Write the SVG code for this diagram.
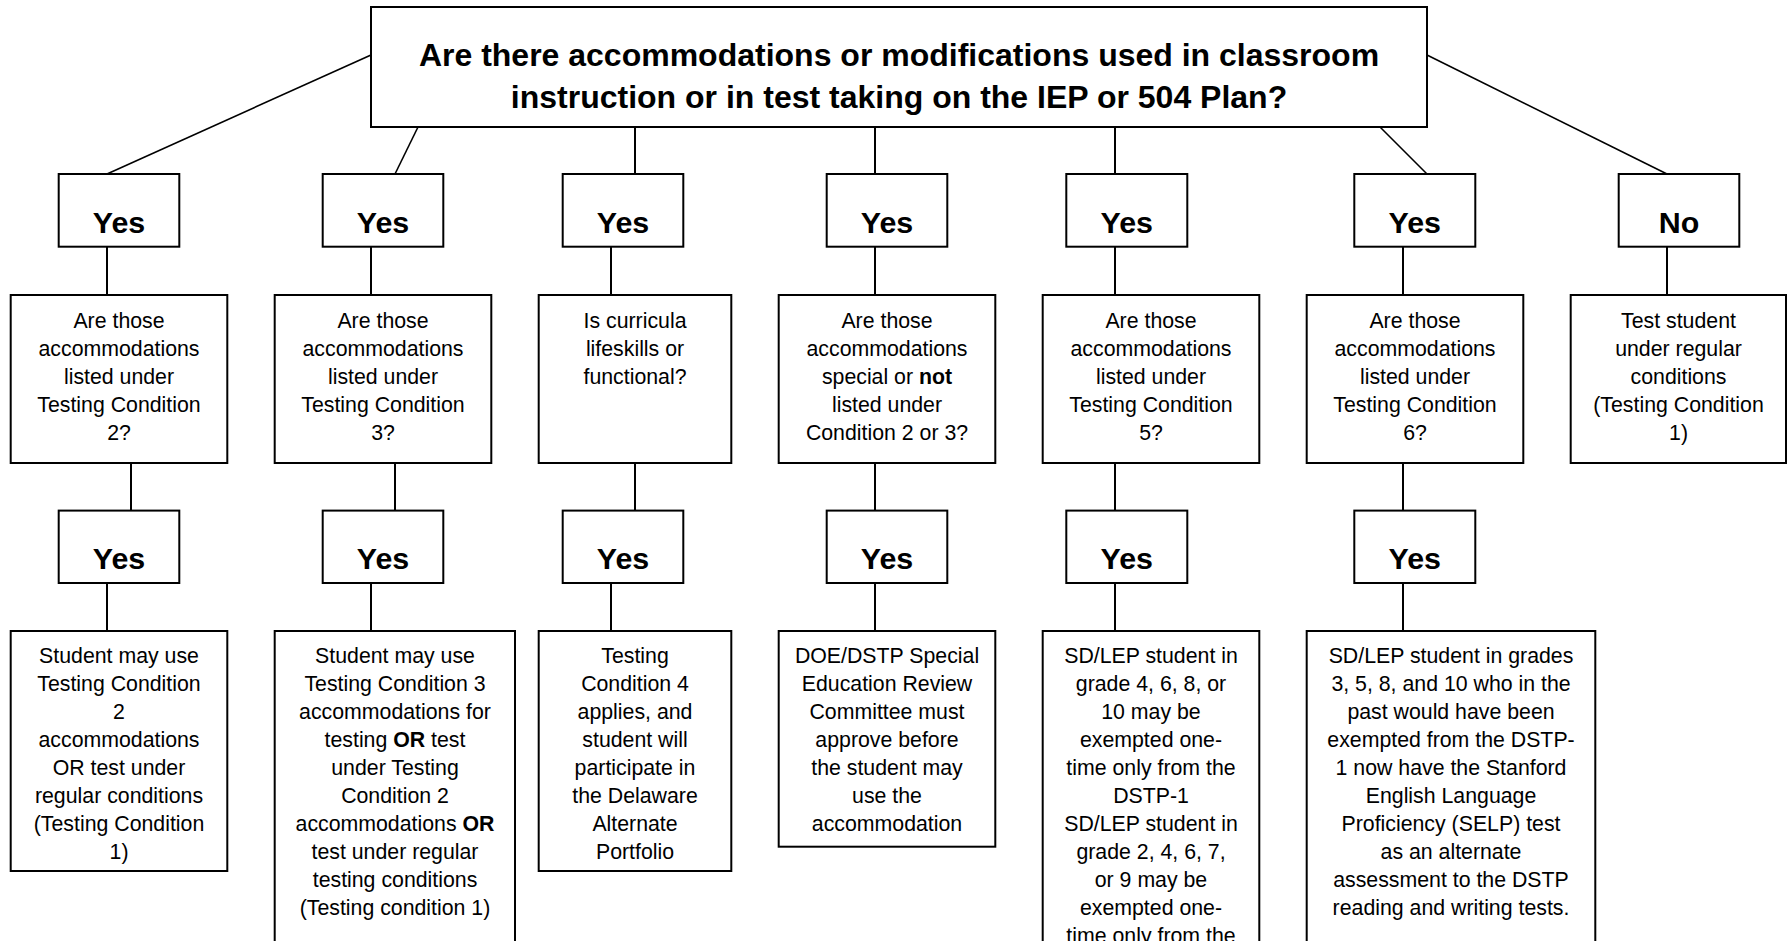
<svg xmlns="http://www.w3.org/2000/svg" width="1787" height="941" viewBox="0 0 1787 941">
<style>
.box{fill:#fff;stroke:#000;stroke-width:2}
.c{stroke:#000;stroke-width:2;fill:none}
.d{stroke:#000;stroke-width:1.6;fill:none}
text{font-family:"Liberation Sans",Arial,sans-serif;fill:#000;text-anchor:middle}
.t{font-size:21.3px}
.y{font-size:30.4px;font-weight:bold}
.h{font-size:32px;font-weight:bold}
.b{font-weight:bold}
</style>
<rect width="1787" height="941" fill="#fff"/>
<g id="connectors">
<line class="d" x1="371" y1="55" x2="107" y2="174"/>
<line class="d" x1="418" y1="127" x2="395" y2="174"/>
<line class="c" x1="635" y1="127" x2="635" y2="174"/>
<line class="c" x1="875" y1="127" x2="875" y2="174"/>
<line class="c" x1="1115" y1="127" x2="1115" y2="174"/>
<line class="d" x1="1380" y1="127" x2="1427" y2="174"/>
<line class="d" x1="1427" y1="55" x2="1667" y2="174"/>
<line class="c" x1="107" y1="247" x2="107" y2="295"/>
<line class="c" x1="371" y1="247" x2="371" y2="295"/>
<line class="c" x1="611" y1="247" x2="611" y2="295"/>
<line class="c" x1="875" y1="247" x2="875" y2="295"/>
<line class="c" x1="1115" y1="247" x2="1115" y2="295"/>
<line class="c" x1="1403" y1="247" x2="1403" y2="295"/>
<line class="c" x1="1667" y1="247" x2="1667" y2="295"/>
<line class="c" x1="131" y1="463" x2="131" y2="511"/>
<line class="c" x1="395" y1="463" x2="395" y2="511"/>
<line class="c" x1="635" y1="463" x2="635" y2="511"/>
<line class="c" x1="875" y1="463" x2="875" y2="511"/>
<line class="c" x1="1115" y1="463" x2="1115" y2="511"/>
<line class="c" x1="1403" y1="463" x2="1403" y2="511"/>
<line class="c" x1="107" y1="583" x2="107" y2="631"/>
<line class="c" x1="371" y1="583" x2="371" y2="631"/>
<line class="c" x1="611" y1="583" x2="611" y2="631"/>
<line class="c" x1="875" y1="583" x2="875" y2="631"/>
<line class="c" x1="1115" y1="583" x2="1115" y2="631"/>
<line class="c" x1="1403" y1="583" x2="1403" y2="631"/>
</g>
<g id="top">
<rect class="box" x="371" y="7" width="1056" height="120"/>
<text class="h" x="899" y="66">Are there accommodations or modifications used in classroom</text>
<text class="h" x="899" y="108">instruction or in test taking on the IEP or 504 Plan?</text>
</g>
<g id="yes1"><rect class="box" x="58.7" y="174" width="120.6" height="72.7"/><text class="y" x="119" y="233">Yes</text></g>
<g id="yes2"><rect class="box" x="322.7" y="174" width="120.6" height="72.7"/><text class="y" x="383" y="233">Yes</text></g>
<g id="yes3"><rect class="box" x="562.7" y="174" width="120.6" height="72.7"/><text class="y" x="623" y="233">Yes</text></g>
<g id="yes4"><rect class="box" x="826.7" y="174" width="120.6" height="72.7"/><text class="y" x="887" y="233">Yes</text></g>
<g id="yes5"><rect class="box" x="1066.3" y="174" width="121" height="72.7"/><text class="y" x="1126.8" y="233">Yes</text></g>
<g id="yes6"><rect class="box" x="1354.3" y="174" width="121" height="72.7"/><text class="y" x="1414.8" y="233">Yes</text></g>
<g id="no"><rect class="box" x="1618.7" y="174" width="120.6" height="72.7"/><text class="y" x="1679" y="233">No</text></g>
<g id="q1"><rect class="box" x="10.7" y="295" width="216.6" height="168"/>
<text class="t" x="119" y="328"><tspan x="119">Are those</tspan><tspan x="119" dy="28">accommodations</tspan><tspan x="119" dy="28">listed under</tspan><tspan x="119" dy="28">Testing Condition</tspan><tspan x="119" dy="28">2?</tspan></text></g>
<g id="q2"><rect class="box" x="274.7" y="295" width="216.6" height="168"/>
<text class="t" x="383" y="328"><tspan x="383">Are those</tspan><tspan x="383" dy="28">accommodations</tspan><tspan x="383" dy="28">listed under</tspan><tspan x="383" dy="28">Testing Condition</tspan><tspan x="383" dy="28">3?</tspan></text></g>
<g id="q3"><rect class="box" x="538.7" y="295" width="192.6" height="168"/>
<text class="t" x="635" y="328"><tspan x="635">Is curricula</tspan><tspan x="635" dy="28">lifeskills or</tspan><tspan x="635" dy="28">functional?</tspan></text></g>
<g id="q4"><rect class="box" x="778.7" y="295" width="216.6" height="168"/>
<text class="t" x="887" y="328"><tspan x="887">Are those</tspan><tspan x="887" dy="28">accommodations</tspan><tspan x="887" dy="28">special or <tspan class="b">not</tspan></tspan><tspan x="887" dy="28">listed under</tspan><tspan x="887" dy="28">Condition 2 or 3?</tspan></text></g>
<g id="q5"><rect class="box" x="1042.7" y="295" width="216.6" height="168"/>
<text class="t" x="1151" y="328"><tspan x="1151">Are those</tspan><tspan x="1151" dy="28">accommodations</tspan><tspan x="1151" dy="28">listed under</tspan><tspan x="1151" dy="28">Testing Condition</tspan><tspan x="1151" dy="28">5?</tspan></text></g>
<g id="q6"><rect class="box" x="1306.7" y="295" width="216.6" height="168"/>
<text class="t" x="1415" y="328"><tspan x="1415">Are those</tspan><tspan x="1415" dy="28">accommodations</tspan><tspan x="1415" dy="28">listed under</tspan><tspan x="1415" dy="28">Testing Condition</tspan><tspan x="1415" dy="28">6?</tspan></text></g>
<g id="q7"><rect class="box" x="1570.7" y="295" width="215.3" height="168"/>
<text class="t" x="1678.5" y="328"><tspan x="1678.5">Test student</tspan><tspan x="1678.5" dy="28">under regular</tspan><tspan x="1678.5" dy="28">conditions</tspan><tspan x="1678.5" dy="28">(Testing Condition</tspan><tspan x="1678.5" dy="28">1)</tspan></text></g>
<g id="yes1b"><rect class="box" x="58.7" y="510.6" width="120.6" height="72.4"/><text class="y" x="119" y="569">Yes</text></g>
<g id="yes2b"><rect class="box" x="322.7" y="510.6" width="120.6" height="72.4"/><text class="y" x="383" y="569">Yes</text></g>
<g id="yes3b"><rect class="box" x="562.7" y="510.6" width="120.6" height="72.4"/><text class="y" x="623" y="569">Yes</text></g>
<g id="yes4b"><rect class="box" x="826.7" y="510.6" width="120.6" height="72.4"/><text class="y" x="887" y="569">Yes</text></g>
<g id="yes5b"><rect class="box" x="1066.3" y="510.6" width="121" height="72.4"/><text class="y" x="1126.8" y="569">Yes</text></g>
<g id="yes6b"><rect class="box" x="1354.3" y="510.6" width="121" height="72.4"/><text class="y" x="1414.8" y="569">Yes</text></g>
<g id="a1"><rect class="box" x="10.7" y="631" width="216.6" height="240"/>
<text class="t" x="119" y="663"><tspan x="119">Student may use</tspan><tspan x="119" dy="28">Testing Condition</tspan><tspan x="119" dy="28">2</tspan><tspan x="119" dy="28">accommodations</tspan><tspan x="119" dy="28">OR test under</tspan><tspan x="119" dy="28">regular conditions</tspan><tspan x="119" dy="28">(Testing Condition</tspan><tspan x="119" dy="28">1)</tspan></text></g>
<g id="a2"><rect class="box" x="274.7" y="631" width="240.3" height="340"/>
<text class="t" x="395" y="663"><tspan x="395">Student may use</tspan><tspan x="395" dy="28">Testing Condition 3</tspan><tspan x="395" dy="28">accommodations for</tspan><tspan x="395" dy="28">testing <tspan class="b">OR</tspan> test</tspan><tspan x="395" dy="28">under Testing</tspan><tspan x="395" dy="28">Condition 2</tspan><tspan x="395" dy="28">accommodations <tspan class="b">OR</tspan></tspan><tspan x="395" dy="28">test under regular</tspan><tspan x="395" dy="28">testing conditions</tspan><tspan x="395" dy="28">(Testing condition 1)</tspan></text></g>
<g id="a3"><rect class="box" x="538.7" y="631" width="192.6" height="240"/>
<text class="t" x="635" y="663"><tspan x="635">Testing</tspan><tspan x="635" dy="28">Condition 4</tspan><tspan x="635" dy="28">applies, and</tspan><tspan x="635" dy="28">student will</tspan><tspan x="635" dy="28">participate in</tspan><tspan x="635" dy="28">the Delaware</tspan><tspan x="635" dy="28">Alternate</tspan><tspan x="635" dy="28">Portfolio</tspan></text></g>
<g id="a4"><rect class="box" x="778.7" y="631" width="216.6" height="215.7"/>
<text class="t" x="887" y="663"><tspan x="887">DOE/DSTP Special</tspan><tspan x="887" dy="28">Education Review</tspan><tspan x="887" dy="28">Committee must</tspan><tspan x="887" dy="28">approve before</tspan><tspan x="887" dy="28">the student may</tspan><tspan x="887" dy="28">use the</tspan><tspan x="887" dy="28">accommodation</tspan></text></g>
<g id="a5"><rect class="box" x="1042.7" y="631" width="216.6" height="340"/>
<text class="t" x="1151" y="663"><tspan x="1151">SD/LEP student in</tspan><tspan x="1151" dy="28">grade 4, 6, 8, or</tspan><tspan x="1151" dy="28">10 may be</tspan><tspan x="1151" dy="28">exempted one-</tspan><tspan x="1151" dy="28">time only from the</tspan><tspan x="1151" dy="28">DSTP-1</tspan><tspan x="1151" dy="28">SD/LEP student in</tspan><tspan x="1151" dy="28">grade 2, 4, 6, 7,</tspan><tspan x="1151" dy="28">or 9 may be</tspan><tspan x="1151" dy="28">exempted one-</tspan><tspan x="1151" dy="28">time only from the</tspan></text></g>
<g id="a6"><rect class="box" x="1306.7" y="631" width="288.6" height="340"/>
<text class="t" x="1451" y="663"><tspan x="1451">SD/LEP student in grades</tspan><tspan x="1451" dy="28">3, 5, 8, and 10 who in the</tspan><tspan x="1451" dy="28">past would have been</tspan><tspan x="1451" dy="28">exempted from the DSTP-</tspan><tspan x="1451" dy="28">1 now have the Stanford</tspan><tspan x="1451" dy="28">English Language</tspan><tspan x="1451" dy="28">Proficiency (SELP) test</tspan><tspan x="1451" dy="28">as an alternate</tspan><tspan x="1451" dy="28">assessment to the DSTP</tspan><tspan x="1451" dy="28">reading and writing tests.</tspan></text></g>
</svg>
